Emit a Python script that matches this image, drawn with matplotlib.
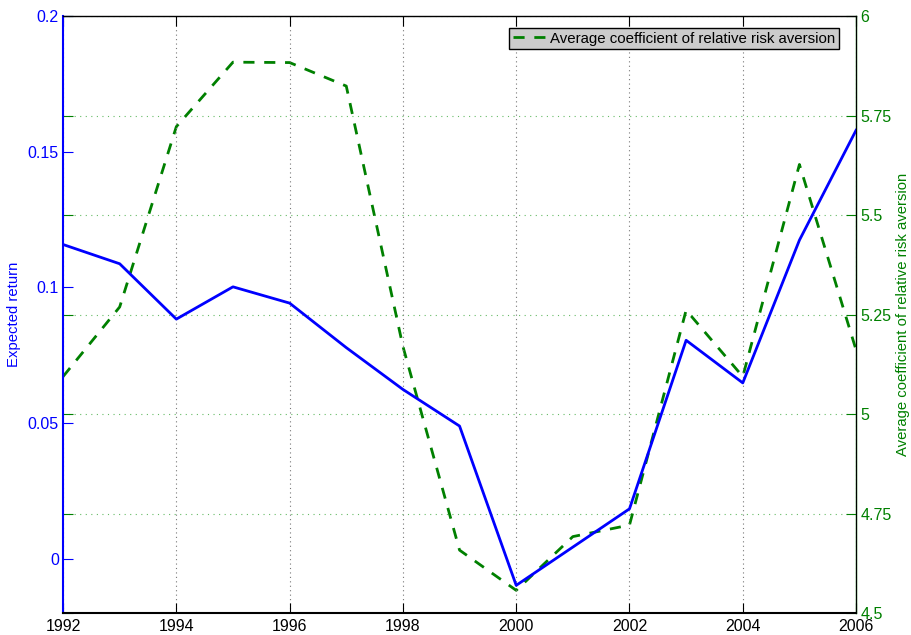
import matplotlib
matplotlib.use('Agg')
import matplotlib.pyplot as plt
from matplotlib.ticker import FixedLocator

plt.rcParams['font.family'] = ['Liberation Sans', 'DejaVu Sans']
plt.rcParams['font.size'] = 11.5

# data
years = [1992, 1993, 1994, 1995, 1996, 1997, 1998, 1999,
         2000, 2001, 2002, 2003, 2004, 2005, 2006]
expected_return = [0.1158, 0.1087, 0.0883, 0.1002, 0.0942, 0.0778, 0.0624, 0.0489,
                   -0.0098, 0.0043, 0.0184, 0.0805, 0.0648, 0.1174, 0.1579]
risk_aversion = [5.094, 5.269, 5.722, 5.884, 5.883, 5.824, 5.170, 4.658,
                 4.557, 4.692, 4.721, 5.261, 5.094, 5.627, 5.161]

left_ticks = [0, 0.05, 0.1, 0.15, 0.2]
left_labels = ['0', '0.05', '0.1', '0.15', '0.2']
right_ticks = [4.5, 4.75, 5, 5.25, 5.5, 5.75, 6]
right_labels = ['4.5', '4.75', '5', '5.25', '5.5', '5.75', '6']
x_ticks = [1992, 1994, 1996, 1998, 2000, 2002, 2004, 2006]

blue = '#0000ff'
green = '#008000'

fig, ax1 = plt.subplots(figsize=(9.11, 6.35), dpi=100)
fig.subplots_adjust(left=0.0692, right=0.9397, top=0.9748, bottom=0.0346)

ax1.plot(years, expected_return, color=blue, lw=2)
ax1.set_xlim(1992, 2006)
ax1.set_ylim(-0.02, 0.2)
ax1.set_xticks(x_ticks)
ax1.set_xticklabels([str(x) for x in x_ticks])
ax1.yaxis.set_major_locator(FixedLocator(left_ticks))
ax1.set_yticklabels(left_labels)
ax1.set_ylabel('Expected return', color=blue, labelpad=5, fontsize=10.7)
ax1.tick_params(axis='y', colors=blue, direction='in', length=7, left=True, right=True, pad=3)
ax1.tick_params(axis='x', direction='in', length=7, top=True, bottom=True, pad=4, colors='black')
ax1.xaxis.grid(True, linestyle=(0, (1, 3)), color='#777777', lw=0.8)
ax1.spines['left'].set_color(blue)
ax1.spines['left'].set_linewidth(1.5)
ax1.spines['bottom'].set_linewidth(1.5)
ax1.spines['top'].set_linewidth(1.0)

ax2 = ax1.twinx()
line2, = ax2.plot(years, risk_aversion, color=green, lw=2, linestyle=(0, (4, 3.5)),
                  label='Average coefficient of relative risk aversion')
ax2.set_ylim(4.5, 6)
ax2.yaxis.set_major_locator(FixedLocator(right_ticks))
ax2.set_yticklabels(right_labels)
ax2.set_ylabel('Average coefficient of relative risk aversion', color=green,
               labelpad=3, fontsize=10.7)
ax2.tick_params(axis='y', colors=green, direction='in', length=7, left=True, right=True, pad=3)
ax2.yaxis.grid(True, linestyle=(0, (1, 4)), color='#66bb66', lw=0.8)
ax2.spines['right'].set_color(green)
ax2.spines['right'].set_linewidth(1.0)
ax2.spines['left'].set_visible(False)
ax2.spines['top'].set_visible(False)
ax2.spines['bottom'].set_visible(False)
ax2.set_zorder(ax1.get_zorder() - 1)
ax1.patch.set_visible(False)
# legend drawn on the front axes
leg = ax1.legend([line2], [line2.get_label()], loc='upper right',
                 bbox_to_anchor=(0.9786, 0.98), borderaxespad=0, fancybox=False,
                 framealpha=1, facecolor='#cccccc', edgecolor='black', handlelength=2.2,
                 handletextpad=0.3, borderpad=0.25, fontsize=10.8)
leg.get_frame().set_linewidth(1.0)

fig.savefig('out.png', dpi=100)
